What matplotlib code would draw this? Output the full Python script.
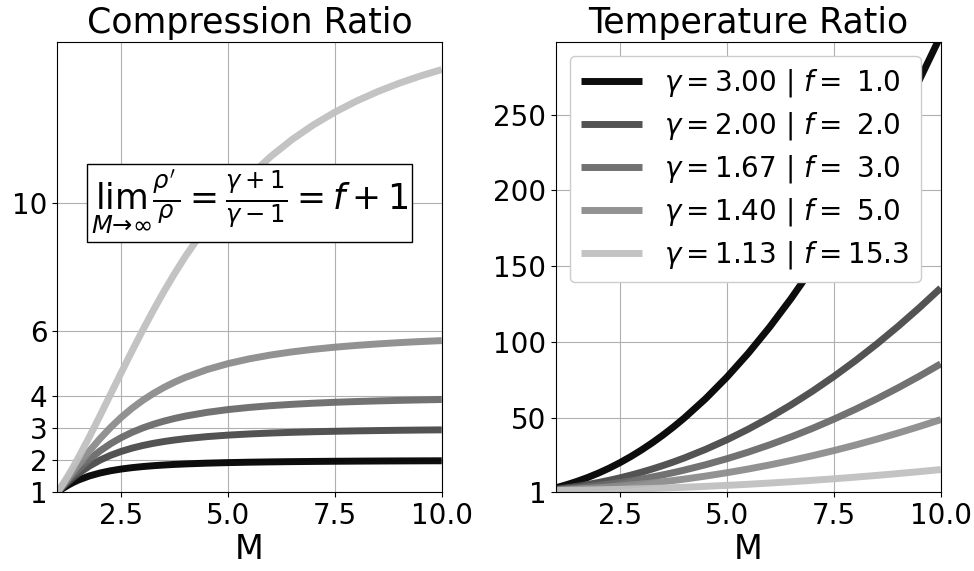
import matplotlib
matplotlib.use("Agg")
import matplotlib.pyplot as plt

# Mach numbers the curves were read at
mach = [1.0, 1.125, 1.25, 1.375, 1.5, 1.75, 2.0, 2.25, 2.5, 2.75, 3.0, 3.25, 3.5, 3.75,
        4.0, 4.5, 5.0, 5.5, 6.0, 6.5, 7.0, 7.5, 8.0, 8.5, 9.0, 9.5, 10.0]

gammas = [3.00, 2.00, 1.67, 1.40, 1.13]
dofs = [1.0, 2.0, 3.0, 5.0, 15.3]
colors = ["#000000", "#4a4a4a", "#6a6a6a", "#8c8c8c", "#c0c0c0"]

# density ratio rho'/rho
comp_g300 = [1.0, 1.11724, 1.21951, 1.30811, 1.38462, 1.50769, 1.6, 1.6701, 1.72414, 1.76642,
             1.8, 1.82703, 1.84906, 1.86722, 1.88235, 1.90588, 1.92308, 1.936, 1.94595, 1.95376,
             1.96, 1.96507, 1.96923, 1.9727, 1.97561, 1.97808, 1.9802]
comp_g200 = [1.0, 1.16268, 1.31579, 1.45783, 1.58824, 1.81481, 2.0, 2.15044, 2.27273, 2.37255,
             2.45455, 2.52239, 2.57895, 2.62646, 2.66667, 2.73034, 2.77778, 2.81395, 2.84211, 2.86441,
             2.88235, 2.897, 2.90909, 2.91919, 2.92771, 2.93496, 2.94118]
comp_g167 = [1.0, 1.18681, 1.36986, 1.54633, 1.71429, 2.02062, 2.28571, 2.51163, 2.7027, 2.86391,
             3.0, 3.11521, 3.21311, 3.2967, 3.36842, 3.48387, 3.57143, 3.6391, 3.69231, 3.73481,
             3.76923, 3.79747, 3.8209, 3.84053, 3.85714, 3.87131, 3.8835]
comp_g140 = [1.0, 1.21197, 1.42857, 1.64626, 1.86207, 2.27907, 2.66667, 3.01863, 3.33333, 3.61194,
             3.85714, 4.07229, 4.26087, 4.42623, 4.57143, 4.81188, 5.0, 5.14894, 5.26829, 5.36508,
             5.44444, 5.5102, 5.56522, 5.61165, 5.65116, 5.68504, 5.71429]
comp_g113 = [1.0, 1.24533, 1.51038, 1.79267, 2.08975, 2.71851, 3.37823, 4.05248, 4.72737, 5.39171,
             6.03702, 6.65709, 7.2477, 7.80647, 8.33224, 9.28467, 10.11161, 10.82485, 11.43853, 11.96648,
             12.42138, 12.81438, 13.15499, 13.45137, 13.71018, 13.93713, 14.13693]

# temperature ratio T'/T
temp_g300 = [4.0, 5.00675, 6.0475, 7.14295, 8.30556, 10.86097, 13.75, 16.98997, 20.59, 24.55527,
             28.88889, 33.59283, 38.66837, 44.11639, 49.9375, 62.70062, 76.96, 92.71694, 109.97222, 128.72633,
             148.97959, 170.73222, 193.98438, 218.73616, 244.98765, 272.73892, 301.99]
temp_g200 = [3.0, 3.49408, 3.99, 4.50155, 5.03704, 6.19898, 7.5, 8.95165, 10.56, 12.32851,
             14.25926, 16.35355, 18.61224, 21.03593, 23.625, 29.30041, 35.64, 42.64463, 50.31481, 58.65089,
             67.65306, 77.32148, 87.65625, 98.65744, 110.3251, 122.65928, 135.66]
temp_g167 = [2.66667, 2.99296, 3.31542, 3.64439, 3.98611, 4.72215, 5.54167, 6.45332, 7.46167, 8.5693,
             9.77778, 11.08808, 12.5008, 14.01653, 15.63542, 19.18364, 23.14667, 27.52514, 32.31944, 37.52983,
             43.15646, 49.19944, 55.65885, 62.53475, 69.82716, 77.53613, 85.66167]
temp_g140 = [2.4, 2.59392, 2.7825, 2.97265, 3.16852, 3.58699, 4.05, 4.56332, 5.13, 5.75176,
             6.42963, 7.16428, 7.95612, 8.80546, 9.7125, 11.70021, 13.92, 16.37232, 19.05741, 21.97544,
             25.12653, 28.51074, 32.12813, 35.97872, 40.06255, 44.37964, 48.93]
temp_g113 = [2.13072, 2.19332, 2.25293, 2.31208, 2.37231, 2.4995, 2.63896, 2.79281, 2.96217, 3.14767,
             3.3497, 3.56849, 3.80422, 4.05697, 4.32684, 4.91809, 5.57825, 6.30748, 7.10588, 7.9735,
             8.91039, 9.91657, 10.99218, 12.13688, 13.35101, 14.63452, 15.98736]

comp = [comp_g300, comp_g200, comp_g167, comp_g140, comp_g113]
temp = [temp_g300, temp_g200, temp_g167, temp_g140, temp_g113]

comp_ticks = [1, 2, 3, 4, 6, 10]
temp_ticks = [1, 50, 100, 150, 200, 250]
x_ticks = [2.5, 5.0, 7.5, 10.0]

fig = plt.figure(figsize=(9.74, 5.71), dpi=100)
ax1 = fig.add_axes([0.0588, 0.1378, 0.3947, 0.789])
ax2 = fig.add_axes([0.5708, 0.1378, 0.395, 0.789])

for g, f, c, yc, yt in zip(gammas, dofs, colors, comp, temp):
    if f < 10:
        lab = r"$\gamma=%.2f\ |\ f=\ %.1f$" % (g, f)
    else:
        lab = r"$\gamma=%.2f\ |\ f=%.1f$" % (g, f)
    ax1.plot(mach, yc, color=c, lw=5, alpha=0.95, solid_capstyle="butt")
    ax2.plot(mach, yt, color=c, lw=5, alpha=0.95, solid_capstyle="butt", label=lab)

ax1.set_xlim(1, 10)
ax1.set_ylim(1, 15)
ax1.set_yticks(comp_ticks)
ax1.set_title("Compression Ratio", fontsize=25)
ax1.text(0.5, 0.643, r"$\lim_{M\to\infty}\frac{\rho^\prime}{\rho}=\frac{\gamma+1}{\gamma-1}=f+1$",
         transform=ax1.transAxes, ha="center", va="center", fontsize=25,
         bbox=dict(boxstyle="square,pad=0.12", fc="white", ec="black"))

ax2.set_xlim(1, 10)
ax2.set_ylim(1, 298)
ax2.set_yticks(temp_ticks)
ax2.set_title("Temperature Ratio", fontsize=25)
ax2.legend(loc="upper left", fontsize=20, framealpha=1, handlelength=2.2,
           labelspacing=0.4, borderaxespad=0.5)

for ax in (ax1, ax2):
    ax.set_xticks(x_ticks)
    ax.set_xlabel("M", fontsize=24, labelpad=2)
    ax.tick_params(labelsize=20)
    ax.grid(True)

fig.savefig("out.png", dpi=100)
